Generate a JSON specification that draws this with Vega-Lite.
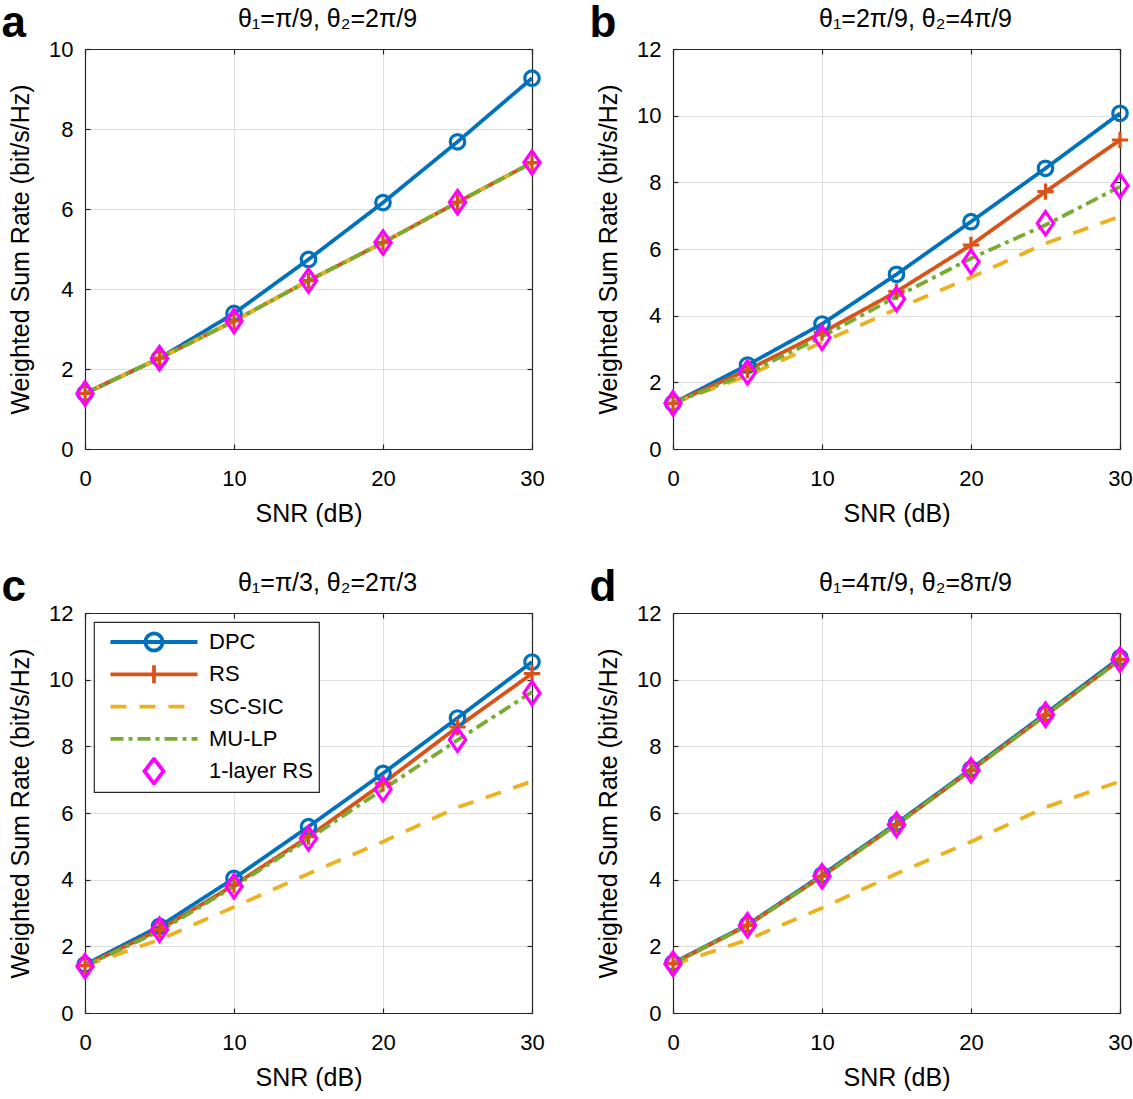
{
"$schema": "https://vega.github.io/schema/vega-lite/v6.json",
"background": "white",
"padding": {"left": 1, "top": 2, "right": 5, "bottom": 3},
"columns": 2,
"spacing": {"row": 40, "column": 42},
"resolve": {"scale": {"color": "independent", "stroke": "independent", "shape": "independent", "size": "independent", "strokeDash": "independent"}, "legend": {"color": "independent"}},
"datasets": {"rates": [
{"p":"a","s":"DPC","snr":0,"rate":1.39},{"p":"a","s":"DPC","snr":5,"rate":2.27},{"p":"a","s":"DPC","snr":10,"rate":3.39},{"p":"a","s":"DPC","snr":15,"rate":4.74},{"p":"a","s":"DPC","snr":20,"rate":6.16},{"p":"a","s":"DPC","snr":25,"rate":7.68},{"p":"a","s":"DPC","snr":30,"rate":9.27},
{"p":"a","s":"RS","snr":0,"rate":1.39},{"p":"a","s":"RS","snr":5,"rate":2.27},{"p":"a","s":"RS","snr":10,"rate":3.2},{"p":"a","s":"RS","snr":15,"rate":4.21},{"p":"a","s":"RS","snr":20,"rate":5.16},{"p":"a","s":"RS","snr":25,"rate":6.17},{"p":"a","s":"RS","snr":30,"rate":7.16},
{"p":"a","s":"SC-SIC","snr":0,"rate":1.39},{"p":"a","s":"SC-SIC","snr":5,"rate":2.27},{"p":"a","s":"SC-SIC","snr":10,"rate":3.2},{"p":"a","s":"SC-SIC","snr":15,"rate":4.21},{"p":"a","s":"SC-SIC","snr":20,"rate":5.16},{"p":"a","s":"SC-SIC","snr":25,"rate":6.17},{"p":"a","s":"SC-SIC","snr":30,"rate":7.16},
{"p":"a","s":"MU-LP","snr":0,"rate":1.39},{"p":"a","s":"MU-LP","snr":5,"rate":2.27},{"p":"a","s":"MU-LP","snr":10,"rate":3.2},{"p":"a","s":"MU-LP","snr":15,"rate":4.21},{"p":"a","s":"MU-LP","snr":20,"rate":5.16},{"p":"a","s":"MU-LP","snr":25,"rate":6.17},{"p":"a","s":"MU-LP","snr":30,"rate":7.16},
{"p":"a","s":"1-layer RS","snr":0,"rate":1.39},{"p":"a","s":"1-layer RS","snr":5,"rate":2.27},{"p":"a","s":"1-layer RS","snr":10,"rate":3.2},{"p":"a","s":"1-layer RS","snr":15,"rate":4.21},{"p":"a","s":"1-layer RS","snr":20,"rate":5.16},{"p":"a","s":"1-layer RS","snr":25,"rate":6.17},{"p":"a","s":"1-layer RS","snr":30,"rate":7.16},
{"p":"b","s":"DPC","snr":0,"rate":1.37},{"p":"b","s":"DPC","snr":5,"rate":2.52},{"p":"b","s":"DPC","snr":10,"rate":3.75},{"p":"b","s":"DPC","snr":15,"rate":5.24},{"p":"b","s":"DPC","snr":20,"rate":6.82},{"p":"b","s":"DPC","snr":25,"rate":8.42},{"p":"b","s":"DPC","snr":30,"rate":10.07},
{"p":"b","s":"RS","snr":0,"rate":1.37},{"p":"b","s":"RS","snr":5,"rate":2.37},{"p":"b","s":"RS","snr":10,"rate":3.49},{"p":"b","s":"RS","snr":15,"rate":4.72},{"p":"b","s":"RS","snr":20,"rate":6.12},{"p":"b","s":"RS","snr":25,"rate":7.72},{"p":"b","s":"RS","snr":30,"rate":9.27},
{"p":"b","s":"SC-SIC","snr":0,"rate":1.37},{"p":"b","s":"SC-SIC","snr":5,"rate":2.2},{"p":"b","s":"SC-SIC","snr":10,"rate":3.2},{"p":"b","s":"SC-SIC","snr":15,"rate":4.2},{"p":"b","s":"SC-SIC","snr":20,"rate":5.15},{"p":"b","s":"SC-SIC","snr":25,"rate":6.17},{"p":"b","s":"SC-SIC","snr":30,"rate":6.98},
{"p":"b","s":"MU-LP","snr":0,"rate":1.37},{"p":"b","s":"MU-LP","snr":5,"rate":2.27},{"p":"b","s":"MU-LP","snr":10,"rate":3.37},{"p":"b","s":"MU-LP","snr":15,"rate":4.57},{"p":"b","s":"MU-LP","snr":20,"rate":5.72},{"p":"b","s":"MU-LP","snr":25,"rate":6.72},{"p":"b","s":"MU-LP","snr":30,"rate":7.87},
{"p":"b","s":"1-layer RS","snr":0,"rate":1.37},{"p":"b","s":"1-layer RS","snr":5,"rate":2.3},{"p":"b","s":"1-layer RS","snr":10,"rate":3.34},{"p":"b","s":"1-layer RS","snr":15,"rate":4.5},{"p":"b","s":"1-layer RS","snr":20,"rate":5.62},{"p":"b","s":"1-layer RS","snr":25,"rate":6.77},{"p":"b","s":"1-layer RS","snr":30,"rate":7.9},
{"p":"c","s":"DPC","snr":0,"rate":1.45},{"p":"c","s":"DPC","snr":5,"rate":2.6},{"p":"c","s":"DPC","snr":10,"rate":4.04},{"p":"c","s":"DPC","snr":15,"rate":5.59},{"p":"c","s":"DPC","snr":20,"rate":7.19},{"p":"c","s":"DPC","snr":25,"rate":8.85},{"p":"c","s":"DPC","snr":30,"rate":10.53},
{"p":"c","s":"RS","snr":0,"rate":1.42},{"p":"c","s":"RS","snr":5,"rate":2.5},{"p":"c","s":"RS","snr":10,"rate":3.84},{"p":"c","s":"RS","snr":15,"rate":5.29},{"p":"c","s":"RS","snr":20,"rate":6.89},{"p":"c","s":"RS","snr":25,"rate":8.58},{"p":"c","s":"RS","snr":30,"rate":10.18},
{"p":"c","s":"SC-SIC","snr":0,"rate":1.42},{"p":"c","s":"SC-SIC","snr":5,"rate":2.2},{"p":"c","s":"SC-SIC","snr":10,"rate":3.18},{"p":"c","s":"SC-SIC","snr":15,"rate":4.18},{"p":"c","s":"SC-SIC","snr":20,"rate":5.14},{"p":"c","s":"SC-SIC","snr":25,"rate":6.17},{"p":"c","s":"SC-SIC","snr":30,"rate":6.95},
{"p":"c","s":"MU-LP","snr":0,"rate":1.42},{"p":"c","s":"MU-LP","snr":5,"rate":2.45},{"p":"c","s":"MU-LP","snr":10,"rate":3.8},{"p":"c","s":"MU-LP","snr":15,"rate":5.22},{"p":"c","s":"MU-LP","snr":20,"rate":6.71},{"p":"c","s":"MU-LP","snr":25,"rate":8.19},{"p":"c","s":"MU-LP","snr":30,"rate":9.63},
{"p":"c","s":"1-layer RS","snr":0,"rate":1.4},{"p":"c","s":"1-layer RS","snr":5,"rate":2.5},{"p":"c","s":"1-layer RS","snr":10,"rate":3.8},{"p":"c","s":"1-layer RS","snr":15,"rate":5.24},{"p":"c","s":"1-layer RS","snr":20,"rate":6.71},{"p":"c","s":"1-layer RS","snr":25,"rate":8.2},{"p":"c","s":"1-layer RS","snr":30,"rate":9.6},
{"p":"d","s":"DPC","snr":0,"rate":1.5},{"p":"d","s":"DPC","snr":5,"rate":2.65},{"p":"d","s":"DPC","snr":10,"rate":4.14},{"p":"d","s":"DPC","snr":15,"rate":5.69},{"p":"d","s":"DPC","snr":20,"rate":7.32},{"p":"d","s":"DPC","snr":25,"rate":8.98},{"p":"d","s":"DPC","snr":30,"rate":10.66},
{"p":"d","s":"RS","snr":0,"rate":1.48},{"p":"d","s":"RS","snr":5,"rate":2.63},{"p":"d","s":"RS","snr":10,"rate":4.1},{"p":"d","s":"RS","snr":15,"rate":5.65},{"p":"d","s":"RS","snr":20,"rate":7.28},{"p":"d","s":"RS","snr":25,"rate":8.93},{"p":"d","s":"RS","snr":30,"rate":10.6},
{"p":"d","s":"SC-SIC","snr":0,"rate":1.45},{"p":"d","s":"SC-SIC","snr":5,"rate":2.2},{"p":"d","s":"SC-SIC","snr":10,"rate":3.15},{"p":"d","s":"SC-SIC","snr":15,"rate":4.18},{"p":"d","s":"SC-SIC","snr":20,"rate":5.14},{"p":"d","s":"SC-SIC","snr":25,"rate":6.17},{"p":"d","s":"SC-SIC","snr":30,"rate":6.95},
{"p":"d","s":"MU-LP","snr":0,"rate":1.48},{"p":"d","s":"MU-LP","snr":5,"rate":2.63},{"p":"d","s":"MU-LP","snr":10,"rate":4.1},{"p":"d","s":"MU-LP","snr":15,"rate":5.65},{"p":"d","s":"MU-LP","snr":20,"rate":7.28},{"p":"d","s":"MU-LP","snr":25,"rate":8.93},{"p":"d","s":"MU-LP","snr":30,"rate":10.6},
{"p":"d","s":"1-layer RS","snr":0,"rate":1.48},{"p":"d","s":"1-layer RS","snr":5,"rate":2.63},{"p":"d","s":"1-layer RS","snr":10,"rate":4.1},{"p":"d","s":"1-layer RS","snr":15,"rate":5.65},{"p":"d","s":"1-layer RS","snr":20,"rate":7.28},{"p":"d","s":"1-layer RS","snr":25,"rate":8.95},{"p":"d","s":"1-layer RS","snr":30,"rate":10.6}
]},
"concat": [
{
  "title": {"text": "a", "anchor": "start", "frame": "bounds", "fontSize": 44, "fontWeight": "bold", "baseline": "alphabetic", "offset": -75, "dx": -7},
  "width": 447, "height": 400,
  "data": {"name": "rates"},
  "transform": [{"filter": "datum.p==='a'"}],
  "resolve": {"axis": {"x": "independent", "y": "independent"}},
  "layer": [
   {"transform": [{"filter": "datum.s!=='1-layer RS'"}],
    "mark": {"type": "line", "strokeWidth": 3.8, "strokeCap": "butt", "strokeJoin": "round"},
    "encoding": {
     "x": {"field": "snr", "type": "quantitative", "scale": {"domain": [0, 30], "nice": false}, "axis": {"title": "SNR (dB)", "values": [0, 10, 20, 30], "grid": true, "orient": "bottom"}},
     "y": {"field": "rate", "type": "quantitative", "scale": {"domain": [0, 10], "nice": false}, "axis": {"title": "Weighted Sum Rate (bit/s/Hz)", "values": [0, 2, 4, 6, 8, 10], "grid": true, "orient": "left"}},
     "color": {"field": "s", "type": "nominal", "scale": {"domain": ["DPC", "RS", "SC-SIC", "MU-LP", "1-layer RS"], "range": ["#0072BD", "#D95319", "#EDB120", "#77AC30", "#FF00FF"]}, "legend": null},
     "strokeDash": {"field": "s", "type": "nominal", "scale": {"domain": ["DPC", "RS", "SC-SIC", "MU-LP"], "range": [[1, 0], [1, 0], [16, 13], [13, 5, 4, 5]]}, "legend": null}
    }},
   {"transform": [{"filter": "datum.s==='DPC'||datum.s==='RS'||datum.s==='1-layer RS'"}],
    "mark": {"type": "point", "filled": false, "strokeWidth": 3.2, "opacity": 1},
    "encoding": {
     "x": {"field": "snr", "type": "quantitative", "axis": {"orient": "top", "labels": false, "title": "θ₁=π/9, θ₂=2π/9", "titleX": 242, "grid": false, "values": [0, 10, 20, 30]}},
     "y": {"field": "rate", "type": "quantitative", "axis": {"orient": "right", "labels": false, "title": null, "grid": false, "values": [0, 2, 4, 6, 8, 10]}},
     "stroke": {"field": "s", "type": "nominal", "scale": {"domain": ["DPC", "RS", "1-layer RS"], "range": ["#0072BD", "#D95319", "#FF00FF"]}, "legend": null},
     "shape": {"field": "s", "type": "nominal", "scale": {"domain": ["DPC", "RS", "1-layer RS"], "range": ["circle", "M-1,0H1M0,-1V1", "M0,-1.3L0.9,0L0,1.3L-0.9,0Z"]}, "legend": null},
     "size": {"field": "s", "type": "nominal", "scale": {"domain": ["DPC", "RS", "1-layer RS"], "range": [210, 324, 289]}, "legend": null}
    }}
  ]
},
{
  "title": {"text": "b", "anchor": "start", "frame": "bounds", "fontSize": 44, "fontWeight": "bold", "baseline": "alphabetic", "offset": -75, "dx": -7},
  "width": 447, "height": 400,
  "data": {"name": "rates"},
  "transform": [{"filter": "datum.p==='b'"}],
  "resolve": {"axis": {"x": "independent", "y": "independent"}},
  "layer": [
   {"transform": [{"filter": "datum.s!=='1-layer RS'"}],
    "mark": {"type": "line", "strokeWidth": 3.8, "strokeCap": "butt", "strokeJoin": "round"},
    "encoding": {
     "x": {"field": "snr", "type": "quantitative", "scale": {"domain": [0, 30], "nice": false}, "axis": {"title": "SNR (dB)", "values": [0, 10, 20, 30], "grid": true, "orient": "bottom"}},
     "y": {"field": "rate", "type": "quantitative", "scale": {"domain": [0, 12], "nice": false}, "axis": {"title": "Weighted Sum Rate (bit/s/Hz)", "values": [0, 2, 4, 6, 8, 10, 12], "grid": true, "orient": "left"}},
     "color": {"field": "s", "type": "nominal", "scale": {"domain": ["DPC", "RS", "SC-SIC", "MU-LP", "1-layer RS"], "range": ["#0072BD", "#D95319", "#EDB120", "#77AC30", "#FF00FF"]}, "legend": null},
     "strokeDash": {"field": "s", "type": "nominal", "scale": {"domain": ["DPC", "RS", "SC-SIC", "MU-LP"], "range": [[1, 0], [1, 0], [16, 13], [13, 5, 4, 5]]}, "legend": null}
    }},
   {"transform": [{"filter": "datum.s==='DPC'||datum.s==='RS'||datum.s==='1-layer RS'"}],
    "mark": {"type": "point", "filled": false, "strokeWidth": 3.2, "opacity": 1},
    "encoding": {
     "x": {"field": "snr", "type": "quantitative", "axis": {"orient": "top", "labels": false, "title": "θ₁=2π/9, θ₂=4π/9", "titleX": 242, "grid": false, "values": [0, 10, 20, 30]}},
     "y": {"field": "rate", "type": "quantitative", "axis": {"orient": "right", "labels": false, "title": null, "grid": false, "values": [0, 2, 4, 6, 8, 10, 12]}},
     "stroke": {"field": "s", "type": "nominal", "scale": {"domain": ["DPC", "RS", "1-layer RS"], "range": ["#0072BD", "#D95319", "#FF00FF"]}, "legend": null},
     "shape": {"field": "s", "type": "nominal", "scale": {"domain": ["DPC", "RS", "1-layer RS"], "range": ["circle", "M-1,0H1M0,-1V1", "M0,-1.3L0.9,0L0,1.3L-0.9,0Z"]}, "legend": null},
     "size": {"field": "s", "type": "nominal", "scale": {"domain": ["DPC", "RS", "1-layer RS"], "range": [210, 324, 289]}, "legend": null}
    }}
  ]
},
{
  "title": {"text": "c", "anchor": "start", "frame": "bounds", "fontSize": 44, "fontWeight": "bold", "baseline": "alphabetic", "offset": -75, "dx": -7},
  "width": 447, "height": 400,
  "data": {"name": "rates"},
  "transform": [{"filter": "datum.p==='c'"}],
  "resolve": {"axis": {"x": "independent", "y": "independent"}},
  "layer": [
   {"transform": [{"filter": "datum.s!=='1-layer RS'"}],
    "mark": {"type": "line", "strokeWidth": 3.8, "strokeCap": "butt", "strokeJoin": "round"},
    "encoding": {
     "x": {"field": "snr", "type": "quantitative", "scale": {"domain": [0, 30], "nice": false}, "axis": {"title": "SNR (dB)", "values": [0, 10, 20, 30], "grid": true, "orient": "bottom"}},
     "y": {"field": "rate", "type": "quantitative", "scale": {"domain": [0, 12], "nice": false}, "axis": {"title": "Weighted Sum Rate (bit/s/Hz)", "values": [0, 2, 4, 6, 8, 10, 12], "grid": true, "orient": "left"}},
     "color": {"field": "s", "type": "nominal", "scale": {"domain": ["DPC", "RS", "SC-SIC", "MU-LP", "1-layer RS"], "range": ["#0072BD", "#D95319", "#EDB120", "#77AC30", "#FF00FF"]},
      "legend": {"title": null, "orient": "top-left", "offset": 9, "padding": 6, "strokeColor": "#262626", "fillColor": "white",
       "labelFontSize": 22, "labelColor": "#000000", "labelFont": "Liberation Sans", "symbolSize": 400, "symbolStrokeWidth": 3.5, "symbolOffset": 42, "labelOffset": 43, "rowPadding": 4.3, "clipHeight": 28,
       "values": ["DPC", "RS", "SC-SIC", "MU-LP", "1-layer RS"],
       "encode": {
        "legend": {"update": {"strokeWidth": {"value": 1.2}}},
        "symbols": {"update": {
        "shape": {"signal": "datum.value==='DPC'?'M-4.35,0H4.35M0.85,0A0.85,0.85,0,1,1,-0.85,0A0.85,0.85,0,1,1,0.85,0':datum.value==='RS'?'M-4.35,0H4.35M0,-0.9V0.9':datum.value==='1-layer RS'?'M0,-1.25L0.95,0L0,1.25L-0.95,0Z':'M-4.35,0H4.35'"},
        "strokeDash": {"signal": "datum.value==='SC-SIC'?[16,13]:datum.value==='MU-LP'?[13,5,4,5]:[1,0]"},
        "stroke": {"signal": "datum.value==='DPC'?'#0072BD':datum.value==='RS'?'#D95319':datum.value==='SC-SIC'?'#EDB120':datum.value==='MU-LP'?'#77AC30':'#FF00FF'"},
        "fill": {"value": "transparent"},
        "strokeWidth": {"value": 3.8},
        "strokeCap": {"value": "butt"},
        "size": {"value": 400},
        "opacity": {"value": 1}
       }}}
      }},
     "strokeDash": {"field": "s", "type": "nominal", "scale": {"domain": ["DPC", "RS", "SC-SIC", "MU-LP"], "range": [[1, 0], [1, 0], [16, 13], [13, 5, 4, 5]]}, "legend": null}
    }},
   {"transform": [{"filter": "datum.s==='DPC'||datum.s==='RS'||datum.s==='1-layer RS'"}],
    "mark": {"type": "point", "filled": false, "strokeWidth": 3.2, "opacity": 1},
    "encoding": {
     "x": {"field": "snr", "type": "quantitative", "axis": {"orient": "top", "labels": false, "title": "θ₁=π/3, θ₂=2π/3", "titleX": 242, "grid": false, "values": [0, 10, 20, 30]}},
     "y": {"field": "rate", "type": "quantitative", "axis": {"orient": "right", "labels": false, "title": null, "grid": false, "values": [0, 2, 4, 6, 8, 10, 12]}},
     "stroke": {"field": "s", "type": "nominal", "scale": {"domain": ["DPC", "RS", "1-layer RS"], "range": ["#0072BD", "#D95319", "#FF00FF"]}, "legend": null},
     "shape": {"field": "s", "type": "nominal", "scale": {"domain": ["DPC", "RS", "1-layer RS"], "range": ["circle", "M-1,0H1M0,-1V1", "M0,-1.3L0.9,0L0,1.3L-0.9,0Z"]}, "legend": null},
     "size": {"field": "s", "type": "nominal", "scale": {"domain": ["DPC", "RS", "1-layer RS"], "range": [210, 324, 289]}, "legend": null}
    }}
  ]
},
{
  "title": {"text": "d", "anchor": "start", "frame": "bounds", "fontSize": 44, "fontWeight": "bold", "baseline": "alphabetic", "offset": -75, "dx": -7},
  "width": 447, "height": 400,
  "data": {"name": "rates"},
  "transform": [{"filter": "datum.p==='d'"}],
  "resolve": {"axis": {"x": "independent", "y": "independent"}},
  "layer": [
   {"transform": [{"filter": "datum.s!=='1-layer RS'"}],
    "mark": {"type": "line", "strokeWidth": 3.8, "strokeCap": "butt", "strokeJoin": "round"},
    "encoding": {
     "x": {"field": "snr", "type": "quantitative", "scale": {"domain": [0, 30], "nice": false}, "axis": {"title": "SNR (dB)", "values": [0, 10, 20, 30], "grid": true, "orient": "bottom"}},
     "y": {"field": "rate", "type": "quantitative", "scale": {"domain": [0, 12], "nice": false}, "axis": {"title": "Weighted Sum Rate (bit/s/Hz)", "values": [0, 2, 4, 6, 8, 10, 12], "grid": true, "orient": "left"}},
     "color": {"field": "s", "type": "nominal", "scale": {"domain": ["DPC", "RS", "SC-SIC", "MU-LP", "1-layer RS"], "range": ["#0072BD", "#D95319", "#EDB120", "#77AC30", "#FF00FF"]}, "legend": null},
     "strokeDash": {"field": "s", "type": "nominal", "scale": {"domain": ["DPC", "RS", "SC-SIC", "MU-LP"], "range": [[1, 0], [1, 0], [16, 13], [13, 5, 4, 5]]}, "legend": null}
    }},
   {"transform": [{"filter": "datum.s==='DPC'||datum.s==='RS'||datum.s==='1-layer RS'"}],
    "mark": {"type": "point", "filled": false, "strokeWidth": 3.2, "opacity": 1},
    "encoding": {
     "x": {"field": "snr", "type": "quantitative", "axis": {"orient": "top", "labels": false, "title": "θ₁=4π/9, θ₂=8π/9", "titleX": 242, "grid": false, "values": [0, 10, 20, 30]}},
     "y": {"field": "rate", "type": "quantitative", "axis": {"orient": "right", "labels": false, "title": null, "grid": false, "values": [0, 2, 4, 6, 8, 10, 12]}},
     "stroke": {"field": "s", "type": "nominal", "scale": {"domain": ["DPC", "RS", "1-layer RS"], "range": ["#0072BD", "#D95319", "#FF00FF"]}, "legend": null},
     "shape": {"field": "s", "type": "nominal", "scale": {"domain": ["DPC", "RS", "1-layer RS"], "range": ["circle", "M-1,0H1M0,-1V1", "M0,-1.3L0.9,0L0,1.3L-0.9,0Z"]}, "legend": null},
     "size": {"field": "s", "type": "nominal", "scale": {"domain": ["DPC", "RS", "1-layer RS"], "range": [210, 324, 289]}, "legend": null}
    }}
  ]
}
],
"config": {
 "font": "Liberation Sans",
 "view": {"stroke": null},
 "axis": {"domainColor": "#262626", "domainWidth": 1.2, "tickColor": "#262626", "tickWidth": 1.2, "tickSize": -5, "labelFontSize": 22, "labelColor": "#000000", "labelFlush": false, "titleFontSize": 25, "titleFontWeight": "normal", "titleColor": "#000000", "gridColor": "#dedede", "gridWidth": 1, "gridOpacity": 1},
 "axisBottom": {"labelPadding": 24, "titlePadding": 12},
 "axisLeft": {"labelPadding": 17, "titlePadding": 15},
 "axisTop": {"titleFontSize": 25, "titleBaseline": "alphabetic", "titlePadding": 22},
 "title": {"fontSize": 22, "fontWeight": "normal", "color": "#000000"}
}
}
